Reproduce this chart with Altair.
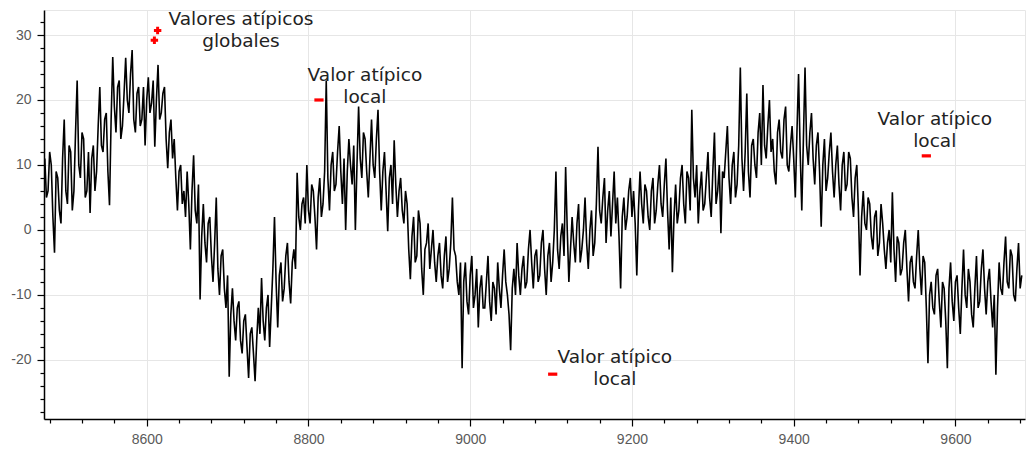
import altair as alt
import pandas as pd

# ---- series (one value every 2 x-units) ----
X_START = 8474
X_STEP = 2
values = [
    11, 5, 6, 12, 10, 2, -3.5, 9, 8, 3, 1, 11, 17, 6, 4, 13, 12, 3, 6, 15,
    23, 10, 8, 15, 14, 5, 6, 12, 2.6, 11, 13, 6, 9, 16, 22, 13, 12, 17, 18, 9,
    3.8, 17, 26.6, 19, 15, 22, 23, 14, 16, 21, 26.5, 20, 18, 24, 27.7, 17, 15, 21, 22, 16,
    17, 22, 13, 20, 23.5, 18, 19.5, 23, 12.8, 20, 25.4, 17, 18, 21, 22, 14, 9.5, 15, 17, 11,
    14, 8, 3, 9, 10, 4, 6, 2, 9, 4, -3, 6, 11.5, 3, 1, 7, -10.7, -1, 4, -2,
    -5, 1, 2, -4, -8, -2, 5, -6, -10, -4, -3, -9, -12, -7, -22.6, -13, -9, -14, -17, -12,
    -11, -17, -19, -14, -13, -18, -22.8, -16, -15, -19, -23.3, -17, -12, -16, -7.4, -14, -17, -12, -10, -18,
    -12, -6, 2, -8, -15, -7, -5, -11, -9, -4, -2, -8, -11.3, -5, -3, -6, 8.8, 2, 0, 4,
    5, 1, 10, 3, 1, 7, 6, 2, -3, 5, 8, 2, 4, 9, 23, 8, 3, 10, 12, 6,
    7, 12, 16, 9, 4, 11, 0, 9, 14, 10, 7, 13, 0, 10, 19, 11, 8, 15, 14, 9,
    5, 11, 17, 10, 8, 14, 18.5, 9, 3, 9, 12, 6, -0.2, 8, 10, 4, 13.8, 7, 2, 6,
    8, 3, 1, 6, 4, -3, -7.6, -1, 2, -5, -4, 3, 1, -6, -10, -3, -2, 1, -6, -3,
    0, -5, -8, -4, -2, -7, -9, -4, -1, -8, -6, -2, 5, -3, -4, -8, -10, -5, -21.3, -8,
    -5, -11, -13, -7, -4, -12, -10, -6, -15, -9, -7, -12, -12, -8, -4, -11, -14, -8, -9, -13,
    -5, -9, -12, -7, -3, -8, -10, -13, -18.5, -9, -6, -10, -2, -7, -10, -6, -4, -9, -8, -3,
    0, -5, -9, -4, -3, -8, -7, -2, 0, -6, -10, -4, -2, -8, -5, 0, 9, -3, -6, -1,
    1, -4, 9.7, 0, -8, -3, 2, -2, -5, 1, 4, -5, -3, 0, 5, -2, -6, 0, 3, -4,
    -2, 4, 12.8, 3, 1, 5, 8, -2, 3, 6, -1, 4, 9, 1, 5, -1, -9, 2, 5, 0,
    2, 6, 8, 2, 6, 1, -7, 3, 9, 4, 1, 7, 6, 2, 0, 6, 8, 1, 3, 7,
    10, 4, 2, 7, 11, 3, -3, 5, -6.5, 2, 7, 1, 3, 8, 10, 4, 1, 9, 8, 3,
    18.5, 8, 5, 10, 1, 6, 9, 3, 4, 8, 12, 5, 2, 9, 15, 4, 6, 10, -0.5, 9,
    8, 12, 16, 8, 4, 10, 12, 5, 7, 13, 25, 11, 6, 12, 21, 9, 5, 13, 14, 10,
    8, 15, 18, 10, 22.3, 13, 11, 16, 20, 12, 14, 9, 7, 15, 17, 12, 11, 17, 19, 10,
    9, 13, 16, 11, 5, 15, 24, 12, 3, 14, 25, 13, 10, 15, 18, 11, 7, 13, 15, 9,
    0.5, 10, 14, 6, 8, 12, 15, 9, 5, 10, 13, 7, 3, 10, 12, 6, 7, 12, 11, 5,
    2, 8, 10, 3, -7, 2, 6, 1, 0, 5, 4, -1, -3, 2, 3, -4, -2, 4, 1, -3,
    -6, -2, 0, -5, 5.8, -3, -8, -1, -2, -7, -6, -2, 0, -6, -11, -5, -4, -8, -9, -4,
    0, -6, -10, -4, -5, -12, -20.5, -10, -8, -12, -13, -7, -6, -11, -15, -8, -9, -14, -21.3, -9,
    -5, -11, -14, -8, -7, -12, -16, -9, -3, -10, -12, -6, -8, -13, -15, -9, -4, -12, -11, -6,
    -3, -9, -13, -8, -6, -11, -15, -10, -22.3, -12, -5, -9, -10, -5, -1, -8, -9, -3, -4, -10,
    -11, -6, -2, -9, -7,
]
xs = [X_START + X_STEP * i for i in range(len(values))]

# ---- outliers ----
global_x = [8609.5, 8613.5]
global_y = [29.2, 30.7]
local_x = [8813, 9102, 9564]
local_y = [20.0, -22.2, 11.4]

# ---- annotations ----
note_text = ["Valores atípicos\nglobales", "Valor atípico\nlocal",
             "Valor atípico\nlocal", "Valor atípico\nlocal"]
note_x = [8716.5, 8869.8, 9178.8, 9574.4]
note_y = [32.5, 23.9, -19.5, 17.1]

# ---- ticks ----
x_ticks = list(range(8480, 9681, 40))
y_ticks = list(range(-28, 33, 2))
X_DOMAIN = [8473, 9686]
Y_DOMAIN = [-29.1, 33.85]

series = pd.DataFrame({"x": xs, "y": values})
glob = pd.DataFrame({"x": global_x, "y": global_y})
loc = pd.DataFrame({"x": local_x, "y": local_y})
notes = pd.DataFrame({"x": note_x, "y": note_y, "t": note_text})

common_axis = dict(
    title=None, grid=True, gridColor="#e6e6e6", gridWidth=1,
    domainColor="black", domainWidth=1.5, tickColor="black", tickWidth=1.2,
    labelColor="#5a5a5a", labelFont="Liberation Sans", labelFontSize=14,
    labelOverlap=False, labelFlush=False, labelBound=False, tickCount=200,
)

x_axis = alt.Axis(
    values=x_ticks,
    labelExpr="datum.value % 200 === 0 ? '' + datum.value : ''",
    tickSize={"condition": {"test": "datum.value % 200 === 0", "value": 7}, "value": 4},
    gridOpacity={"condition": {"test": "datum.value % 200 === 0", "value": 1}, "value": 0},
    labelPadding=6,
    **common_axis,
)
y_axis = alt.Axis(
    values=y_ticks,
    labelExpr="datum.value % 10 === 0 ? '' + datum.value : ''",
    tickSize={"condition": {"test": "datum.value % 10 === 0", "value": 7}, "value": 4},
    gridOpacity={"condition": {"test": "datum.value % 10 === 0", "value": 1}, "value": 0},
    labelPadding=6,
    **common_axis,
)

xenc = alt.X("x:Q", scale=alt.Scale(domain=X_DOMAIN, nice=False, zero=False), axis=x_axis)
yenc = alt.Y("y:Q", scale=alt.Scale(domain=Y_DOMAIN, nice=False, zero=False), axis=y_axis)

line = alt.Chart(series).mark_line(color="#000000", strokeWidth=1.6, clip=True).encode(
    x=xenc, y=yenc
)

gpts = alt.Chart(glob).mark_point(
    shape="cross", filled=True, color="red", size=55, opacity=1
).encode(x="x:Q", y="y:Q")

lpts = alt.Chart(loc).mark_point(
    shape="M-1,-0.35L1,-0.35L1,0.35L-1,0.35Z", filled=True, color="red", size=85, opacity=1
).encode(x="x:Q", y="y:Q")

text = alt.Chart(notes).mark_text(
    lineBreak="\n", font="DejaVu Sans", fontSize=18.5, color="#222222",
    align="center", baseline="middle", lineHeight=22
).encode(x="x:Q", y="y:Q", text="t:N")

chart = alt.layer(line, gpts, lpts, text).properties(
    width=981, height=409,
    padding={"left": 44, "top": 10, "right": 1, "bottom": 32},
    autosize=alt.AutoSizeParams(type="none"),
    background="white",
).configure_view(stroke="#e6e6e6", strokeWidth=1)

chart.save("out.html", embed_options={"renderer": "svg", "actions": False})
